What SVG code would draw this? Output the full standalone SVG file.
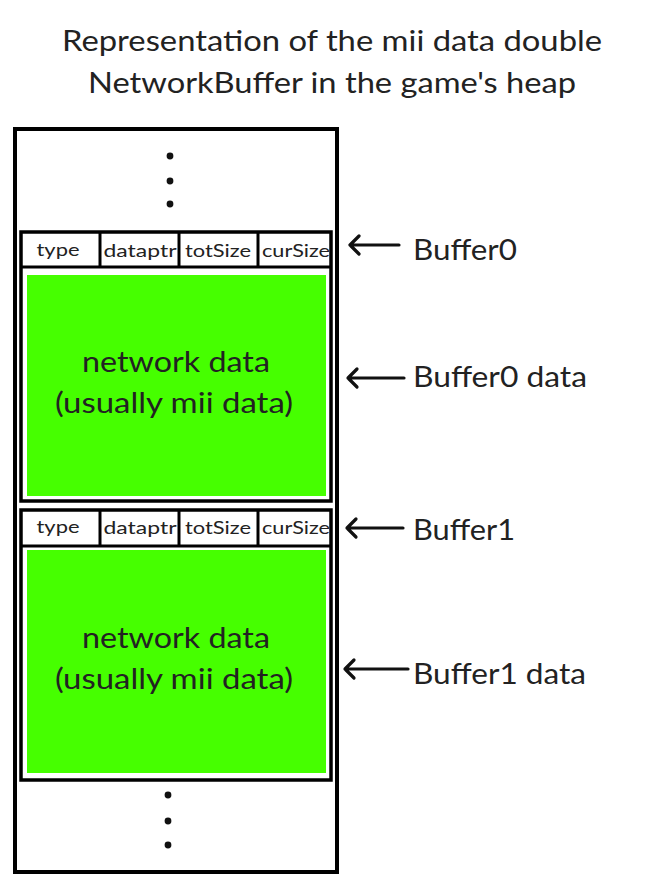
<svg xmlns="http://www.w3.org/2000/svg" width="654" height="876" viewBox="0 0 654 876">
<style>
.frame{fill:#fff;stroke:#000;stroke-width:4}
.box{fill:none;stroke:#000;stroke-width:3.5}
.sep{stroke:#000;stroke-width:3}
.green{fill:#46ff00}
.hdr{font-family:Lato,"Open Sans",sans-serif;font-size:18px;fill:#222;text-anchor:middle}
.big{font-family:Lato,"Open Sans",sans-serif;font-size:28px;fill:#222}
.mid{text-anchor:middle}
.arr{fill:none;stroke:#111;stroke-width:3.2;stroke-linecap:round;stroke-linejoin:round}
.dot{fill:#111}
</style>
<rect width="654" height="876" fill="#fff"/>
<g id="title">
<text class="big mid" x="332" y="51" textLength="540" lengthAdjust="spacingAndGlyphs">Representation of the mii data double</text>
<text class="big mid" x="332" y="93" textLength="488" lengthAdjust="spacingAndGlyphs">NetworkBuffer in the game's heap</text>
</g>
<g id="heap">
<rect class="frame" x="15" y="129" width="322" height="743"/>
<circle class="dot" cx="170" cy="156" r="3.4"/>
<circle class="dot" cx="170" cy="181" r="3.4"/>
<circle class="dot" cx="170" cy="204" r="3.4"/>
<circle class="dot" cx="168" cy="795" r="3.4"/>
<circle class="dot" cx="168" cy="821" r="3.4"/>
<circle class="dot" cx="168" cy="845" r="3.4"/>
</g>
<g id="buffer0">
<rect class="green" x="27" y="275" width="299" height="221"/>
<rect class="box" x="21" y="232" width="310" height="269"/>
<line class="sep" x1="21" y1="267" x2="331" y2="267"/>
<line class="sep" x1="100" y1="232" x2="100" y2="267"/>
<line class="sep" x1="179" y1="232" x2="179" y2="267"/>
<line class="sep" x1="258" y1="232" x2="258" y2="267"/>
<text class="hdr" x="58" y="256" textLength="43" lengthAdjust="spacingAndGlyphs">type</text>
<text class="hdr" x="140" y="257" textLength="73" lengthAdjust="spacingAndGlyphs">dataptr</text>
<text class="hdr" x="218" y="257" textLength="66" lengthAdjust="spacingAndGlyphs">totSize</text>
<text class="hdr" x="296" y="257" textLength="68" lengthAdjust="spacingAndGlyphs">curSize</text>
<text class="big mid" x="176" y="372" textLength="188" lengthAdjust="spacingAndGlyphs">network data</text>
<text class="big mid" x="174" y="413" textLength="238" lengthAdjust="spacingAndGlyphs">(usually mii data)</text>
</g>
<g id="buffer1">
<rect class="green" x="27" y="550" width="299" height="223"/>
<rect class="box" x="21" y="510" width="310" height="270"/>
<line class="sep" x1="21" y1="546" x2="331" y2="546"/>
<line class="sep" x1="100" y1="510" x2="100" y2="546"/>
<line class="sep" x1="179" y1="510" x2="179" y2="546"/>
<line class="sep" x1="258" y1="510" x2="258" y2="546"/>
<text class="hdr" x="58" y="533" textLength="43" lengthAdjust="spacingAndGlyphs">type</text>
<text class="hdr" x="140" y="534" textLength="73" lengthAdjust="spacingAndGlyphs">dataptr</text>
<text class="hdr" x="218" y="534" textLength="66" lengthAdjust="spacingAndGlyphs">totSize</text>
<text class="hdr" x="296" y="534" textLength="68" lengthAdjust="spacingAndGlyphs">curSize</text>
<text class="big mid" x="176" y="648" textLength="188" lengthAdjust="spacingAndGlyphs">network data</text>
<text class="big mid" x="174" y="689" textLength="238" lengthAdjust="spacingAndGlyphs">(usually mii data)</text>
</g>
<g id="connectors">
<path class="arr" d="M399 245H350M359 236L350 245L359 254"/>
<path class="arr" d="M404 378H348M357 369L348 378L357 387"/>
<path class="arr" d="M403 528H347M356 519L347 528L356 537"/>
<path class="arr" d="M408 669H345M354 660L345 669L354 678"/>
</g>
<g id="labels">
<text class="big" x="413" y="260" textLength="104" lengthAdjust="spacingAndGlyphs">Buffer0</text>
<text class="big" x="413" y="387" textLength="174" lengthAdjust="spacingAndGlyphs">Buffer0 data</text>
<text class="big" x="413" y="540" textLength="102" lengthAdjust="spacingAndGlyphs">Buffer1</text>
<text class="big" x="413" y="684" textLength="173" lengthAdjust="spacingAndGlyphs">Buffer1 data</text>
</g>
</svg>
